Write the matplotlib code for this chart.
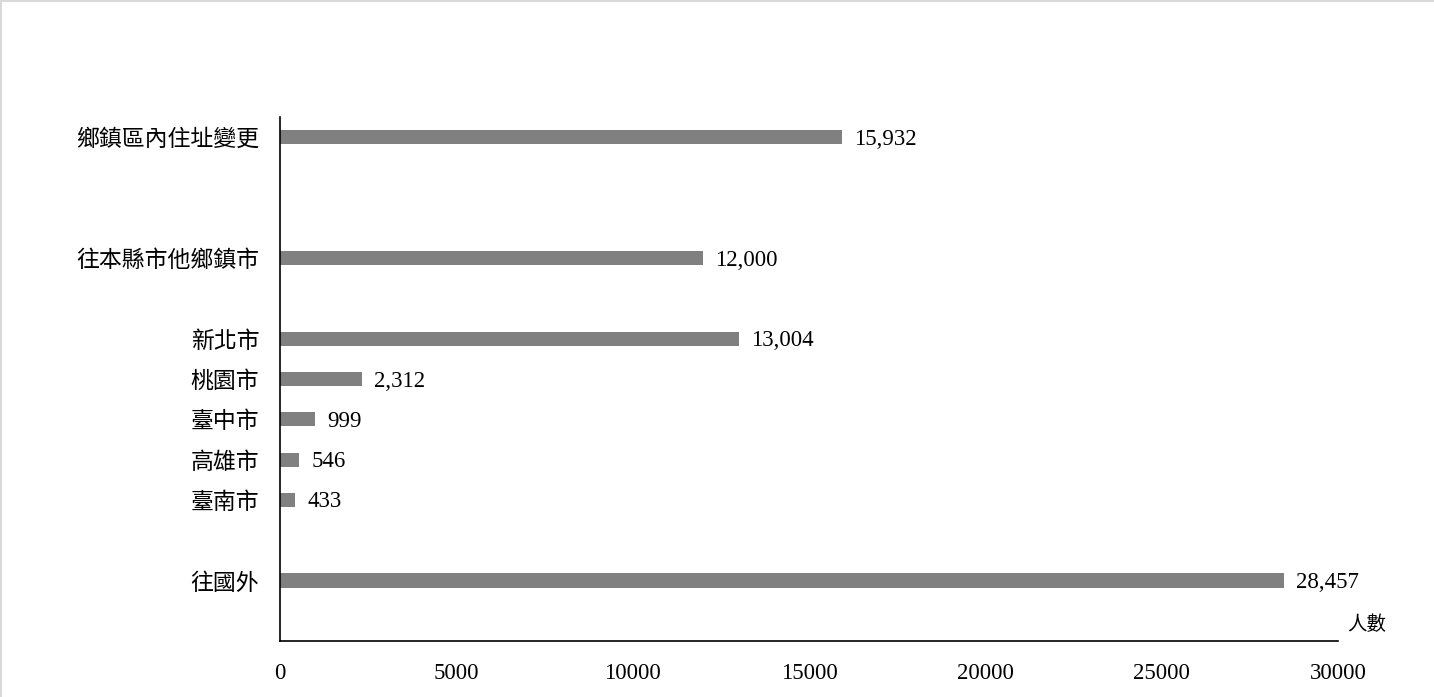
import matplotlib
matplotlib.use("Agg")
import matplotlib.pyplot as plt
from matplotlib.lines import Line2D

# ---- data ----
categories = ["鄉鎮區內住址變更", "往本縣市他鄉鎮市", "新北市", "桃園市",
              "臺中市", "高雄市", "臺南市", "往國外"]
values = [15932, 12000, 13004, 2312, 999, 546, 433, 28457]
slots = [0, 3, 5, 6, 7, 8, 9, 11]   # gaps between groups
x_ticks = [0, 5000, 10000, 15000, 20000, 25000, 30000]

CJK = ["Noto Sans CJK TC", "DejaVu Sans"]
SERIF = ["Liberation Serif", "DejaVu Serif"]

fig = plt.figure(figsize=(14.34, 6.97), dpi=100)
ax = fig.add_axes([280 / 1434, 1 - 641 / 697, 1058 / 1434, 524 / 697])

ax.barh(slots, values, height=0.35, color="#808080")
for s, v in zip(slots, values):
    ax.text(v + 350, s + 0.05, f"{v:,}", va="center", ha="left",
            fontsize=16.5, family=SERIF, color="black")

ax.set_xlim(0, 30000)
ax.set_ylim(12.5, -0.5)
ax.set_yticks(slots)
ax.set_yticklabels(categories, family=CJK, fontsize=16.5, fontweight="light")
ax.set_xticks(x_ticks)
ax.set_xticklabels([str(t) for t in x_ticks], family=SERIF, fontsize=16.5)
ax.tick_params(axis="both", length=0)
ax.tick_params(axis="x", pad=15.5)
ax.tick_params(axis="y", pad=15)

for side in ["top", "right"]:
    ax.spines[side].set_visible(False)
for side in ["left", "bottom"]:
    ax.spines[side].set_linewidth(1.2)
    ax.spines[side].set_color("black")

ax.text(1.027, 0.032, "人數", transform=ax.transAxes, ha="center", va="center",
        fontsize=14, family=CJK, fontweight="light")

# light frame on top and left edge of picture
fig.lines.append(Line2D([0.001, 0.001], [0, 0.998], transform=fig.transFigure,
                        color="#d9d9d9", linewidth=1.5))
fig.lines.append(Line2D([0.001, 1], [0.998, 0.998], transform=fig.transFigure,
                        color="#d9d9d9", linewidth=1.5))

plt.savefig("out.png", dpi=100)
plt.close()
